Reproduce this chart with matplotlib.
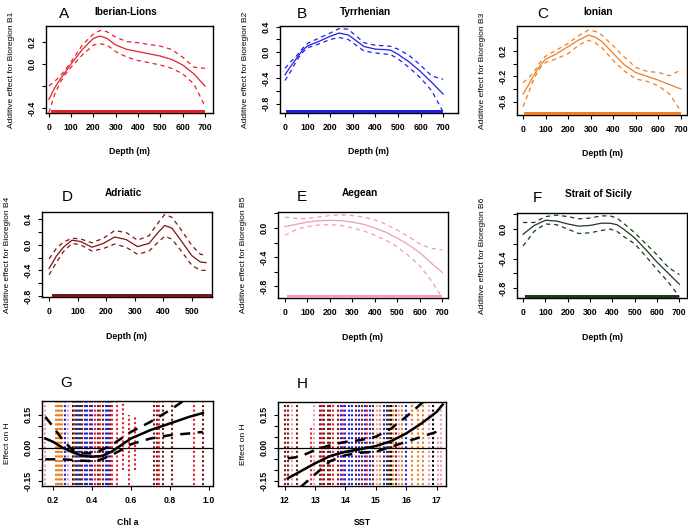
import matplotlib
matplotlib.use("Agg")
import matplotlib.pyplot as plt
from matplotlib.patches import Rectangle

plt.rcParams["font.family"] = ["Liberation Sans", "DejaVu Sans"]

# ---------------- colours of the bioregions ----------------
C_RED = "#E8202A"
C_BLUE = "#1F1FE6"
C_ORANGE = "#F07D1E"
C_DARKRED = "#7B1516"
C_PINK = "#F29CB0"
C_GREEN = "#1E3A1E"
C_BLACK = "#000000"

# ---------------- depth smooths ----------------
titles = ["Iberian-Lions", "Tyrrhenian", "Ionian", "Adriatic", "Aegean", "Strait of Sicily"]
letters = ["A", "B", "C", "D", "E", "F"]
ylabels = ["Additive effect for Bioregion B1", "Additive effect for Bioregion B2",
           "Additive effect for Bioregion B3", "Additive effect for Bioregion B4",
           "Additive effect for Bioregion B5", "Additive effect for Bioregion B6"]

depth_a = [0, 25, 50, 75, 100, 150, 200, 230, 260, 300, 350, 400, 450, 500, 550, 600, 650, 700]
fit_a = [-0.32, -0.22, -0.14, -0.07, 0.0, 0.13, 0.23, 0.25, 0.23, 0.17, 0.13, 0.11, 0.09, 0.07, 0.04, -0.01, -0.09, -0.2]
up_a = [-0.2, -0.16, -0.11, -0.05, 0.02, 0.17, 0.27, 0.3, 0.29, 0.24, 0.2, 0.19, 0.175, 0.16, 0.13, 0.06, -0.03, -0.04]
lo_a = [-0.44, -0.28, -0.17, -0.09, -0.03, 0.08, 0.17, 0.18, 0.17, 0.11, 0.06, 0.03, 0.01, -0.01, -0.04, -0.09, -0.18, -0.38]

depth_b = [0, 25, 50, 75, 100, 150, 200, 240, 280, 300, 350, 400, 450, 470, 500, 550, 600, 650, 700]
fit_b = [-0.35, -0.22, -0.1, 0.02, 0.1, 0.17, 0.25, 0.3, 0.27, 0.22, 0.09, 0.05, 0.04, 0.03, -0.03, -0.15, -0.3, -0.47, -0.65]
up_b = [-0.25, -0.15, -0.06, 0.05, 0.14, 0.22, 0.3, 0.37, 0.36, 0.3, 0.15, 0.11, 0.1, 0.09, 0.05, -0.05, -0.2, -0.37, -0.42]
lo_b = [-0.44, -0.3, -0.14, -0.01, 0.07, 0.13, 0.2, 0.23, 0.2, 0.15, 0.02, -0.01, -0.03, -0.04, -0.1, -0.24, -0.4, -0.6, -0.93]

depth_c = [0, 25, 50, 75, 100, 150, 200, 250, 290, 320, 350, 400, 450, 500, 550, 600, 650, 700]
fit_c = [-0.48, -0.33, -0.17, -0.03, 0.07, 0.16, 0.27, 0.38, 0.45, 0.42, 0.35, 0.16, -0.02, -0.14, -0.2, -0.26, -0.33, -0.4]
up_c = [-0.3, -0.22, -0.12, 0.02, 0.12, 0.22, 0.32, 0.45, 0.53, 0.51, 0.45, 0.28, 0.1, -0.06, -0.12, -0.14, -0.19, -0.1]
lo_c = [-0.68, -0.45, -0.22, -0.07, 0.02, 0.08, 0.16, 0.3, 0.37, 0.33, 0.25, 0.05, -0.12, -0.24, -0.28, -0.35, -0.48, -0.75]

depth_d = [0, 25, 50, 80, 110, 150, 190, 230, 270, 310, 350, 380, 405, 430, 460, 500, 530, 550]
fit_d = [-0.37, -0.18, -0.04, 0.07, 0.05, -0.04, 0.02, 0.12, 0.08, -0.03, 0.02, 0.18, 0.3, 0.26, 0.08, -0.17, -0.27, -0.28]
up_d = [-0.22, -0.06, 0.04, 0.1, 0.09, 0.03, 0.1, 0.22, 0.19, 0.07, 0.14, 0.33, 0.47, 0.43, 0.25, -0.01, -0.15, -0.16]
lo_d = [-0.47, -0.28, -0.11, 0.02, 0.0, -0.1, -0.06, 0.01, -0.04, -0.15, -0.1, 0.03, 0.13, 0.09, -0.08, -0.32, -0.4, -0.4]

depth_e = [0, 50, 100, 150, 200, 250, 300, 350, 400, 450, 500, 550, 600, 650, 700]
fit_e = [0.02, 0.05, 0.08, 0.1, 0.105, 0.1, 0.08, 0.05, 0.0, -0.06, -0.14, -0.23, -0.34, -0.48, -0.61]
up_e = [0.15, 0.13, 0.13, 0.15, 0.17, 0.18, 0.17, 0.15, 0.11, 0.05, -0.03, -0.12, -0.22, -0.28, -0.3]
lo_e = [-0.1, -0.02, 0.02, 0.04, 0.045, 0.035, 0.0, -0.04, -0.1, -0.17, -0.26, -0.38, -0.52, -0.72, -0.96]

depth_f = [0, 50, 100, 150, 200, 250, 300, 350, 390, 420, 450, 500, 550, 600, 650, 700]
fit_f = [-0.07, 0.05, 0.12, 0.11, 0.07, 0.04, 0.05, 0.08, 0.08, 0.06, 0.0, -0.12, -0.28, -0.45, -0.6, -0.75]
up_f = [0.09, 0.09, 0.17, 0.19, 0.17, 0.14, 0.15, 0.18, 0.18, 0.15, 0.08, -0.05, -0.2, -0.35, -0.52, -0.62]
lo_f = [-0.23, -0.03, 0.07, 0.06, 0.0, -0.06, -0.05, -0.02, 0.0, -0.03, -0.1, -0.2, -0.37, -0.55, -0.72, -0.92]

rug_ranges = [(8, 700), (5, 700), (5, 700), (10, 575), (10, 700), (10, 700)]

# ---------------- Chl a (G) ----------------
chl = [0.16, 0.2, 0.25, 0.3, 0.35, 0.4, 0.45, 0.5, 0.55, 0.6, 0.7, 0.8, 0.9, 0.97]
fit_g = [0.042, 0.027, 0.0, -0.02, -0.036, -0.04, -0.037, -0.018, 0.012, 0.042, 0.08, 0.11, 0.14, 0.157]
up_g = [0.14, 0.095, 0.035, -0.01, -0.025, -0.025, -0.01, 0.012, 0.042, 0.072, 0.117, 0.17, 0.23, 0.27]
lo_g = [-0.052, -0.052, -0.052, -0.055, -0.058, -0.06, -0.052, -0.033, -0.01, 0.016, 0.042, 0.057, 0.065, 0.072]

g_pts_x = [0.16, 0.215, 0.225, 0.235, 0.245, 0.26, 0.275, 0.30, 0.31, 0.32, 0.33, 0.34, 0.35, 0.365,
           0.375, 0.39, 0.40, 0.415, 0.43, 0.44, 0.455, 0.47, 0.48, 0.495, 0.505, 0.53, 0.56, 0.59,
           0.62, 0.72, 0.735, 0.745, 0.765, 0.81, 0.925, 0.97]
g_pts_col = [C_PINK, C_ORANGE, C_ORANGE, C_ORANGE, C_ORANGE, C_BLUE, C_PINK, C_BLACK, C_RED, C_GREEN,
             C_BLUE, C_GREEN, C_DARKRED, C_BLUE, C_BLUE, C_DARKRED, C_BLUE, C_RED, C_DARKRED, C_RED,
             C_DARKRED, C_BLUE, C_BLUE, C_DARKRED, C_RED, C_RED, C_RED, C_RED, C_RED, C_DARKRED,
             C_DARKRED, C_RED, C_DARKRED, C_DARKRED, C_RED, C_DARKRED]
g_pts_lo = [-0.17] * 26 + [-0.1, -0.17, -0.1] + [-0.17] * 7
g_pts_hi = [0.21] * 26 + [0.21, 0.15, 0.15] + [0.21] * 7

# ---------------- SST (H) ----------------
sst = [12.1, 12.5, 13.0, 13.5, 14.0, 14.5, 15.0, 15.5, 16.0, 16.5, 17.0, 17.2]
fit_h = [-0.138, -0.108, -0.07, -0.037, -0.018, -0.006, 0.008, 0.03, 0.065, 0.11, 0.162, 0.195]
up_h = [-0.048, -0.04, -0.01, 0.012, 0.027, 0.035, 0.05, 0.087, 0.14, 0.2, 0.26, 0.29]
lo_h = [-0.23, -0.18, -0.12, -0.06, -0.033, -0.022, -0.018, 0.005, 0.027, 0.05, 0.072, 0.08]

h_pts_x = [12.0, 12.1, 12.25, 12.4, 12.85, 12.95, 13.15, 13.22, 13.3, 13.42, 13.5, 13.6, 13.75, 13.85,
           13.92, 14.0, 14.12, 14.22, 14.35, 14.45, 14.55, 14.63, 14.72, 14.82, 14.92, 15.05, 15.15,
           15.27, 15.37, 15.45, 15.5, 15.58, 15.68, 15.75, 15.85, 16.0, 16.2, 16.38, 16.55, 16.75,
           16.87, 17.05, 17.15]
h_pts_col = [C_DARKRED, C_DARKRED, C_PINK, C_DARKRED, C_RED, C_PINK, C_DARKRED, C_RED, C_DARKRED,
             C_DARKRED, C_DARKRED, C_RED, C_DARKRED, C_BLUE, C_RED, C_BLUE, C_BLUE, C_BLUE, C_DARKRED,
             C_BLUE, C_DARKRED, C_BLUE, C_RED, C_BLUE, C_DARKRED, C_PINK, C_ORANGE, C_BLUE, C_GREEN,
             C_DARKRED, C_BLACK, C_ORANGE, C_DARKRED, C_PINK, C_ORANGE, C_BLUE, C_ORANGE, C_ORANGE,
             C_ORANGE, C_PINK, C_BLACK, C_PINK, C_PINK]
h_pts_lo = [-0.17] * 43
h_pts_hi = [0.21] * 4 + [0.1] + [0.21] * 36 + [0.05, 0.21]

# ---------------- layout (pixel boxes: left, top, right, bottom) ----------------
W, H = 688, 528
fig = plt.figure(figsize=(W / 100, H / 100), dpi=100)


def add_ax(l, t, r, b):
    return fig.add_axes([l / W, 1 - b / H, (r - l) / W, (b - t) / H])


TICK_FS = 6.3
LAB_FS = 6.0


def style(ax, xticks, yticks, ylabeled, xlab, ylab, xpad=10):
    for s in ax.spines.values():
        s.set_linewidth(1.0)
    ax.tick_params(direction="out", length=3, width=0.8, pad=4, labelsize=TICK_FS)
    ax.set_xticks(xticks)
    ax.set_xticklabels([("%g" % v) for v in xticks], fontweight="bold")
    ax.set_yticks(yticks)
    labs = []
    for v in yticks:
        if any(abs(v - w) < 1e-9 for w in ylabeled):
            labs.append("%.2f" % v if abs(yticks[1] - yticks[0]) < 0.1 else "%.1f" % v)
        else:
            labs.append("")
    ax.set_yticklabels(labs, fontweight="bold", rotation=90, va="center")
    ax.set_xlabel(xlab, fontsize=TICK_FS, fontweight="bold", labelpad=xpad)
    ax.set_ylabel(ylab, fontsize=LAB_FS, labelpad=9)


def header(ax, letter, title, lx, up_letter, up_title):
    ax.annotate(letter, xy=(lx, 1), xycoords="axes fraction", xytext=(0, up_letter),
                textcoords="offset points", ha="center", va="center", fontsize=11)
    if title:
        ax.annotate(title, xy=(0.48, 1), xycoords="axes fraction", xytext=(0, up_title),
                    textcoords="offset points", ha="center", va="center", fontsize=7.2,
                    fontweight="bold")


boxes = [(46, 26, 213, 113), (280, 26, 458, 113), (517, 26, 687, 115),
         (42, 212, 212, 297), (278, 212, 448, 298), (517, 213, 687, 298)]
xlims = [(-13, 736), (-22, 766), (-27, 727), (-25, 571), (-31, 725), (-27, 734)]
ylims = [(-0.443, 0.341), (-0.946, 0.41), (-0.81, 0.595), (-0.816, 0.51), (-0.96, 0.219), (-0.937, 0.219)]
yticks_all = [[-0.4, -0.2, 0.0, 0.2], [-0.8, -0.6, -0.4, -0.2, 0.0, 0.2, 0.4],
              [-0.6, -0.4, -0.2, 0.0, 0.2, 0.4], [-0.8, -0.6, -0.4, -0.2, 0.0, 0.2, 0.4],
              [-0.8, -0.6, -0.4, -0.2, 0.0, 0.2], [-0.8, -0.6, -0.4, -0.2, 0.0, 0.2]]
ylabeled_all = [[-0.4, 0.0, 0.2], [-0.8, -0.4, 0.0, 0.4], [-0.6, -0.2, 0.2],
                [-0.8, -0.4, 0.0, 0.4], [-0.8, -0.4, 0.0], [-0.8, -0.4, 0.0]]
xticks_all = [[0, 100, 200, 300, 400, 500, 600, 700]] * 3 + [[0, 100, 200, 300, 400, 500]] + \
             [[0, 100, 200, 300, 400, 500, 600, 700]] * 2
letter_x = [0.11, 0.12, 0.15, 0.15, 0.14, 0.12]
colors = [C_RED, C_BLUE, C_ORANGE, C_DARKRED, C_PINK, C_GREEN]
series = [(depth_a, fit_a, up_a, lo_a), (depth_b, fit_b, up_b, lo_b), (depth_c, fit_c, up_c, lo_c),
          (depth_d, fit_d, up_d, lo_d), (depth_e, fit_e, up_e, lo_e), (depth_f, fit_f, up_f, lo_f)]

for i in range(6):
    ax = add_ax(*boxes[i])
    x, f, u, lo = series[i]
    col = colors[i]
    ax.plot(x, f, color=col, lw=0.9)
    ax.plot(x, u, color=col, lw=0.9, dashes=(3.5, 3))
    ax.plot(x, lo, color=col, lw=0.9, dashes=(3.5, 3))
    r0, r1 = rug_ranges[i]
    ax.add_patch(Rectangle((r0, 0), r1 - r0, 0.035, transform=ax.get_xaxis_transform(),
                           color=col, lw=0, zorder=3))
    ax.set_xlim(*xlims[i])
    ax.set_ylim(*ylims[i])
    style(ax, xticks_all[i], yticks_all[i], ylabeled_all[i], "Depth (m)", ylabels[i],
          xpad=11 if i < 3 else 12)
    if i < 3:
        header(ax, letters[i], titles[i], letter_x[i], 9, 10)
    else:
        header(ax, letters[i], titles[i], letter_x[i], 11, 14)

# ---- G ----
axg = add_ax(42, 401, 213, 486)
axg.vlines(g_pts_x, g_pts_lo, g_pts_hi, colors=g_pts_col, lw=1.5, linestyles=(0, (1, 1.2)))
axg.axhline(0, color="black", lw=0.9)
axg.plot(chl, fit_g, color="black", lw=1.8)
axg.plot(chl, up_g, color="black", lw=1.8, dashes=(4, 3))
axg.plot(chl, lo_g, color="black", lw=1.8, dashes=(4, 3))
axg.set_xlim(0.143, 1.022)
axg.set_ylim(-0.1725, 0.2115)
style(axg, [0.2, 0.4, 0.6, 0.8, 1.0], [-0.15, -0.1, -0.05, 0.0, 0.05, 0.1, 0.15],
      [-0.15, 0.0, 0.15], "Chl a", "Effect on H", xpad=9.5)
axg.set_xticklabels(["0.2", "0.4", "0.6", "0.8", "1.0"], fontweight="bold")
header(axg, "G", None, 0.14, 13, 0)

# ---- H ----
axh = add_ax(278, 402, 446, 486)
axh.vlines(h_pts_x, h_pts_lo, h_pts_hi, colors=h_pts_col, lw=1.5, linestyles=(0, (1, 1.2)))
axh.axhline(0, color="black", lw=0.9)
axh.plot(sst, fit_h, color="black", lw=1.8)
axh.plot(sst, up_h, color="black", lw=1.8, dashes=(4, 3))
axh.plot(sst, lo_h, color="black", lw=1.8, dashes=(4, 3))
axh.set_xlim(11.78, 17.31)
axh.set_ylim(-0.1725, 0.207)
style(axh, [12, 13, 14, 15, 16, 17], [-0.15, -0.1, -0.05, 0.0, 0.05, 0.1, 0.15],
      [-0.15, 0.0, 0.15], "SST", "Effect on H", xpad=9.5)
header(axh, "H", None, 0.143, 13, 0)

fig.savefig("out.png", dpi=100)
